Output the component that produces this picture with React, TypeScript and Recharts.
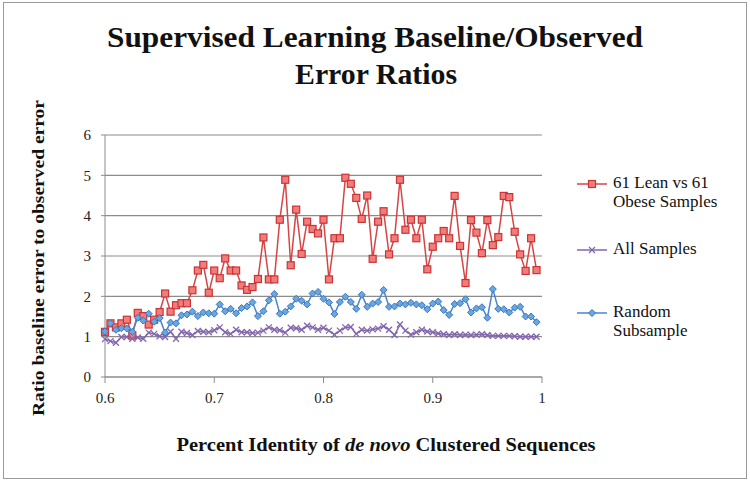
import React from 'react'
import { LineChart, Line, XAxis, YAxis, CartesianGrid, Legend } from 'recharts'

// percent identity thresholds (x)
const identity = [
  0.6, 0.605, 0.61, 0.615, 0.62, 0.625, 0.63, 0.635, 0.64, 0.645,
  0.65, 0.655, 0.66, 0.665, 0.67, 0.675, 0.68, 0.685, 0.69, 0.695,
  0.7, 0.705, 0.71, 0.715, 0.72, 0.725, 0.73, 0.735, 0.74, 0.745,
  0.75, 0.755, 0.76, 0.765, 0.77, 0.775, 0.78, 0.785, 0.79, 0.795,
  0.8, 0.805, 0.81, 0.815, 0.82, 0.825, 0.83, 0.835, 0.84, 0.845,
  0.85, 0.855, 0.86, 0.865, 0.87, 0.875, 0.88, 0.885, 0.89, 0.895,
  0.9, 0.905, 0.91, 0.915, 0.92, 0.925, 0.93, 0.935, 0.94, 0.945,
  0.95, 0.955, 0.96, 0.965, 0.97, 0.975, 0.98, 0.985, 0.99, 0.995,
]

const leanVsObese = [
  1.12, 1.33, 1.23, 1.33, 1.42, 1.03, 1.59, 1.51, 1.3, 1.42,
  1.61, 2.07, 1.62, 1.78, 1.83, 1.83, 2.15, 2.64, 2.78, 2.09,
  2.64, 2.45, 2.94, 2.64, 2.64, 2.27, 2.16, 2.23, 2.43, 3.46,
  2.42, 2.42, 3.9, 4.89, 2.77, 4.15, 3.05, 3.85, 3.67, 3.56,
  3.9, 2.42, 3.44, 3.44, 4.94, 4.79, 4.44, 3.92, 4.5, 2.93,
  3.85, 4.11, 3.04, 3.44, 4.89, 3.65, 3.9, 3.44, 3.9, 2.67,
  3.23, 3.44, 3.62, 3.44, 4.49, 3.25, 2.33, 3.89, 3.58, 3.07,
  3.89, 3.27, 3.47, 4.49, 4.46, 3.6, 3.04, 2.63, 3.44, 2.65,
]

const allSamples = [
  0.94, 0.89, 0.85, 0.99, 0.99, 0.95, 0.98, 0.95, 1.1, 1.07,
  1.01, 0.99, 1.12, 0.95, 1.12, 1.09, 1.04, 1.14, 1.12, 1.11,
  1.16, 1.23, 1.11, 1.07, 1.17, 1.11, 1.11, 1.09, 1.1, 1.15,
  1.23, 1.17, 1.16, 1.1, 1.22, 1.21, 1.17, 1.27, 1.23, 1.17,
  1.22, 1.15, 1.05, 1.15, 1.23, 1.24, 1.07, 1.17, 1.15, 1.18,
  1.2, 1.26, 1.17, 1.04, 1.3, 1.15, 1.05, 1.11, 1.17, 1.13,
  1.11, 1.08, 1.06, 1.04, 1.06, 1.04, 1.05, 1.04, 1.05, 1.06,
  1.04, 1.02, 1.02, 1.02, 1.02, 1.01, 1.0, 1.0, 1.0, 1.0,
]

const randomSubsample = [
  1.13, 1.33, 1.17, 1.21, 1.2, 1.12, 1.47, 1.4, 1.57, 1.37,
  1.46, 1.1, 1.35, 1.33, 1.53, 1.55, 1.62, 1.51, 1.6, 1.58,
  1.57, 1.8, 1.63, 1.69, 1.58, 1.71, 1.75, 1.85, 1.51, 1.63,
  1.9, 2.06, 1.57, 1.62, 1.75, 1.94, 1.89, 1.8, 2.07, 2.11,
  1.94, 1.85, 1.56, 1.86, 1.99, 1.86, 1.69, 2.04, 1.74, 1.82,
  1.86, 2.16, 1.74, 1.75, 1.82, 1.8, 1.84, 1.8, 1.78, 1.68,
  1.82, 1.87, 1.66, 1.54, 1.81, 1.83, 1.93, 1.6, 1.7, 1.73,
  1.47, 2.18, 1.69, 1.68, 1.6, 1.72, 1.74, 1.5, 1.5, 1.36,
]

const xTicks = [0.6, 0.7, 0.8, 0.9, 1]
const yTicks = [0, 1, 2, 3, 4, 5, 6]

const legendLabels: Record<string, string[]> = {
  lean: ['61 Lean vs 61', 'Obese Samples'],
  all: ['All Samples'],
  random: ['Random', 'Subsample'],
}

const data = identity.map((x, i) => ({
  x,
  lean: leanVsObese[i],
  all: allSamples[i],
  random: randomSubsample[i],
}))

const RED = '#D64545'
const PURPLE = '#8466AE'
const BLUE = '#4A86C8'
const SERIF = '"Liberation Serif", "DejaVu Serif", serif'

const SquareDot = (props: any) => {
  const { cx, cy } = props
  if (cx == null || cy == null) return null
  return <rect x={cx - 3.5} y={cy - 3.5} width={7} height={7} fill="#F07C7C" stroke="#CC3333" strokeWidth={1.2} />
}

const DiamondDot = (props: any) => {
  const { cx, cy } = props
  if (cx == null || cy == null) return null
  return (
    <path
      d={`M${cx},${cy - 3.5}L${cx + 3.5},${cy}L${cx},${cy + 3.5}L${cx - 3.5},${cy}Z`}
      fill="#6AA6E0"
      stroke="#3A76BE"
      strokeWidth={1}
    />
  )
}

const CrossDot = (props: any) => {
  const { cx, cy } = props
  if (cx == null || cy == null) return null
  return (
    <path
      d={`M${cx - 3},${cy - 3}L${cx + 3},${cy + 3}M${cx - 3},${cy + 3}L${cx + 3},${cy - 3}`}
      stroke={PURPLE}
      strokeWidth={1.3}
      fill="none"
    />
  )
}

const iconFor = (key: string) => {
  if (key === 'lean') return <SquareDot cx={15} cy={6} />
  if (key === 'all') return <CrossDot cx={15} cy={6} />
  return <DiamondDot cx={15} cy={6} />
}

const legendTops: Record<string, number> = { lean: 0, all: 66, random: 129 }

const renderLegend = (props: any) => {
  const { payload } = props
  const ordered = ['lean', 'all', 'random']
  return (
    <div style={{ position: 'relative', width: 170, height: 170 }}>
      {ordered.map((key) => {
        const entry = (payload || []).find((p: any) => p.dataKey === key)
        const color = entry ? entry.color : '#000'
        return (
          <div key={key} style={{ position: 'absolute', left: 0, top: legendTops[key], display: 'flex' }}>
            <svg width={32} height={12} style={{ marginTop: 5, marginRight: 4 }}>
              <line x1={0} y1={6} x2={30} y2={6} stroke={color} strokeWidth={1.5} />
              {iconFor(key)}
            </svg>
            <div style={{ fontFamily: SERIF, fontSize: 17, lineHeight: '19px', color: '#111', textAlign: 'left' }}>
              {legendLabels[key].map((l) => (
                <div key={l}>{l}</div>
              ))}
            </div>
          </div>
        )
      })}
    </div>
  )
}

export default function App() {
  return (
    <div style={{ position: 'absolute', left: 0, top: 0, width: 750, height: 481, background: '#fff' }}>
      <div
        style={{
          position: 'absolute',
          left: 3,
          top: 2,
          width: 742,
          height: 475,
          border: '1px solid #9a9a9a',
        }}
      />
      <svg width={750} height={481} style={{ position: 'absolute', left: 0, top: 0 }}>
        <g fontFamily={SERIF} fontWeight="bold" fill="#111">
          <text x={375} y={47} textAnchor="middle" fontSize={29} textLength={536} lengthAdjust="spacingAndGlyphs">
            Supervised Learning Baseline/Observed
          </text>
          <text x={376} y={84} textAnchor="middle" fontSize={29} textLength={162} lengthAdjust="spacingAndGlyphs">
            Error Ratios
          </text>
          <text x={386} y={451} textAnchor="middle" fontSize={18} textLength={419} lengthAdjust="spacingAndGlyphs">
            Percent Identity of <tspan fontStyle="italic">de novo</tspan> Clustered Sequences
          </text>
          <text
            x={0}
            y={0}
            transform="translate(44,258) rotate(-90)"
            textAnchor="middle"
            fontSize={17}
            textLength={316}
            lengthAdjust="spacingAndGlyphs"
          >
            Ratio baseline error to observed error
          </text>
        </g>
      </svg>
      <LineChart
        width={750}
        height={481}
        data={data}
        margin={{ top: 135, right: 208, bottom: 64, left: 55 }}
        style={{ position: 'absolute', left: 0, top: 0 }}
      >
        <CartesianGrid vertical={false} stroke="#8c8c8c" strokeWidth={1.2} />
        <XAxis
          dataKey="x"
          type="number"
          domain={[0.6, 1]}
          ticks={xTicks}
          tickFormatter={(v) => String(v)}
          stroke="#8c8c8c"
          tickSize={6}
          tickMargin={9}
          tick={{ fill: '#222', fontSize: 15, fontFamily: SERIF }}
          height={40}
        />
        <YAxis
          type="number"
          domain={[0, 6]}
          ticks={yTicks}
          stroke="#8c8c8c"
          tickSize={4}
          tickMargin={10}
          width={50}
          tick={{ fill: '#222', fontSize: 15, fontFamily: SERIF }}
        />
        <Legend
          layout="vertical"
          align="center"
          verticalAlign="middle"
          content={renderLegend}
          wrapperStyle={{ position: 'absolute', left: 577, top: 173, width: 170 }}
        />
        <Line
          dataKey="lean"
          name="61 Lean vs 61 Obese Samples"
          stroke={RED}
          strokeWidth={1.5}
          dot={<SquareDot />}
          isAnimationActive={false}
        />
        <Line
          dataKey="all"
          name="All Samples"
          stroke={PURPLE}
          strokeWidth={1.5}
          dot={<CrossDot />}
          isAnimationActive={false}
        />
        <Line
          dataKey="random"
          name="Random Subsample"
          stroke={BLUE}
          strokeWidth={1.5}
          dot={<DiamondDot />}
          isAnimationActive={false}
        />
      </LineChart>
    </div>
  )
}
